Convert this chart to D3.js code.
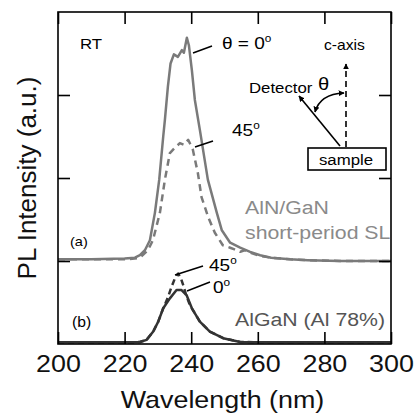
<!DOCTYPE html>
<html><head><meta charset="utf-8">
<script src="https://cdn.jsdelivr.net/npm/d3@7"></script>
<style>html,body{margin:0;padding:0;background:#fff;}svg{display:block;}</style>
</head><body>
<script>
// ---- data ----
const xTicks = [200, 220, 240, 260, 280, 300];
const yTicks = [1, 2, 3];

// (a) AlN/GaN short-period SL, theta = 0 deg (solid)
const wlA0  = [200,210,220,223.1,224.6,226.1,227.6,229.1,230.4,231.6,232.1,233.0,233.8,234.8,236.0,237.2,237.8,238.7,239.3,240.2,241.1,242.6,245.0,247.7,249.2,251.7,254.7,257.7,260.7,264,269.7,275,284.7,300];
const intA0 = [1.02,1.02,1.03,1.04,1.07,1.13,1.25,1.58,1.98,2.50,2.70,3.10,3.38,3.49,3.46,3.54,3.51,3.69,3.60,3.30,2.94,2.58,1.98,1.58,1.37,1.22,1.16,1.11,1.07,1.04,1.02,1.01,1.00,1.00];
// (a) theta = 45 deg (dashed)
const wlA45  = [200,210,220,223,224.6,227.0,228.5,230.6,232.1,233.6,235,236.6,237.8,239.1,240.5,242.0,243.1,245.1,247.1,249.5,251.7,253,254.7,256,257.7,260.7,264,269.7,275,284.7,300];
const intA45 = [1.02,1.02,1.02,1.03,1.04,1.13,1.25,1.58,1.98,2.30,2.36,2.42,2.40,2.46,2.34,2.06,1.77,1.53,1.34,1.19,1.16,1.14,1.11,1.13,1.10,1.06,1.04,1.02,1.01,1.00,1.00];
// (b) AlGaN (Al 78%), 0 deg (solid)
const wlB0  = [200,210,220,224.6,226.6,228.6,230.1,231.6,233.6,235.6,237.1,238.6,240.2,242.6,245.6,249.6,254.7,260,270,280,290,300];
const intB0 = [0.02,0.02,0.02,0.024,0.05,0.15,0.27,0.43,0.55,0.65,0.65,0.59,0.43,0.27,0.15,0.07,0.025,0.02,0.02,0.02,0.02,0.02];
// (b) 45 deg (dashed)
const wlB45  = [200,210,220,224.6,226.6,228.6,230.1,231.6,233.0,234.1,235.2,236.1,237.0,237.6,238.4,239.6,240.2,242.6,245.6,249.6,254.7,260,270,280,290,300];
const intB45 = [0.02,0.02,0.02,0.024,0.05,0.15,0.27,0.43,0.56,0.69,0.80,0.85,0.78,0.71,0.60,0.47,0.43,0.27,0.15,0.07,0.025,0.02,0.02,0.02,0.02,0.02];

// ---- layout ----
const W = 416, H = 418;
const L = 58, R = 391, T = 12, B = 344;
const FONT = "'Liberation Sans', Arial, Helvetica, sans-serif";
const SX = 1.12; // horizontal stretch of text in the reference

const svg = d3.select("body").append("svg").attr("width", W).attr("height", H);
const defs = svg.append("defs");
defs.append("clipPath").attr("id", "plot").append("rect")
  .attr("x", L).attr("y", T).attr("width", R - L).attr("height", B - T);
const mk = defs.append("marker").attr("id", "arr").attr("viewBox", "0 0 10 10")
  .attr("refX", 9).attr("refY", 5).attr("markerWidth", 6).attr("markerHeight", 6)
  .attr("markerUnits", "userSpaceOnUse").attr("orient", "auto-start-reverse");
mk.append("path").attr("d", "M0,0 L10,5 L0,10 z").attr("fill", "#000");

const x = d3.scaleLinear().domain([200, 300]).range([L, R]);
const y = d3.scaleLinear().domain([0, 4]).range([B, T]);

// curves
const line = d3.line().x(d => x(d[0])).y(d => y(d[1]));
const curves = [
  {wl: wlA0,  v: intA0,  color: "#7a7a7a", dash: null},
  {wl: wlA45, v: intA45, color: "#7a7a7a", dash: "7,5"},
  {wl: wlB0,  v: intB0,  color: "#333333", dash: null},
  {wl: wlB45, v: intB45, color: "#333333", dash: "6,4"}
];
const cg = svg.append("g").attr("clip-path", "url(#plot)");
curves.forEach(c => {
  cg.append("path").datum(c.wl.map((w, i) => [w, c.v[i]]))
    .attr("d", line).attr("fill", "none").attr("stroke", c.color)
    .attr("stroke-width", 2.5).attr("stroke-linejoin", "round")
    .attr("stroke-dasharray", c.dash);
});

// axes (ticks inside)
const tk = 12;
const gB = svg.append("g").attr("transform", `translate(0,${B})`)
  .call(d3.axisBottom(x).tickValues(xTicks).tickSize(-tk).tickPadding(11).tickFormat(d3.format("d")));
const gT = svg.append("g").attr("transform", `translate(0,${T})`)
  .call(d3.axisTop(x).tickValues(xTicks).tickSize(-tk).tickFormat(""));
const gL = svg.append("g").attr("transform", `translate(${L},0)`)
  .call(d3.axisLeft(y).tickValues(yTicks).tickSize(-tk).tickFormat(""));
const gR = svg.append("g").attr("transform", `translate(${R},0)`)
  .call(d3.axisRight(y).tickValues(yTicks).tickSize(-tk).tickFormat(""));
[gB, gT, gL, gR].forEach(g => {
  g.select(".domain").remove();
  g.selectAll(".tick line").attr("stroke", "#000").attr("stroke-width", 1.6);
});
gB.selectAll(".tick text").attr("font-family", FONT).attr("font-size", 24).attr("fill", "#111")
  .attr("transform", `scale(${SX},1)`);

svg.append("rect").attr("x", L).attr("y", T).attr("width", R - L).attr("height", B - T)
  .attr("fill", "none").attr("stroke", "#000").attr("stroke-width", 1.6);

// text helper
function txt(px, py, s, size, opts = {}) {
  const t = svg.append("text")
    .attr("transform", `translate(${px},${py}) scale(${SX},1)`)
    .attr("font-family", FONT).attr("font-size", size)
    .attr("fill", opts.fill || "#000")
    .attr("text-anchor", opts.anchor || "start")
    .attr("dominant-baseline", "central");
  t.append("tspan").text(s);
  if (opts.deg) {
    t.append("tspan").attr("font-size", size * 0.62).attr("dy", -size * 0.3).text("o");
  }
  return t;
}

// axis titles
txt((L + R) / 2 - 2, 400, "Wavelength (nm)", 24, {anchor: "middle", fill: "#111"});
svg.append("text").attr("transform", `translate(27,178) rotate(-90)`)
  .attr("text-anchor", "middle").attr("dominant-baseline", "central")
  .attr("font-family", FONT).attr("font-size", 26).attr("fill", "#111").text("PL Intensity (a.u.)");

// annotations
txt(80, 43, "RT", 15);
txt(222, 43, "\u03B8 = 0", 17, {deg: true});
txt(232, 130, "45", 17, {deg: true});
txt(245, 207, "AlN/GaN", 19, {fill: "#8a8a8a"});
txt(245, 232, "short-period SL", 19, {fill: "#8a8a8a"});
txt(70, 241, "(a)", 13);
txt(209, 265, "45", 17, {deg: true});
txt(213, 287, "0", 17, {deg: true});
txt(72, 322, "(b)", 14);
txt(235, 319, "AlGaN (Al 78%)", 19, {fill: "#555"});

// leader lines
const leaders = [[193, 53, 212, 46], [195, 147, 213, 141], [175, 275, 203, 266], [187, 291, 210, 282]];
leaders.forEach(l => svg.append("line").attr("x1", l[0]).attr("y1", l[1]).attr("x2", l[2]).attr("y2", l[3])
  .attr("stroke", "#000").attr("stroke-width", 1.5));

// inset geometry diagram
txt(324, 45, "c-axis", 14);
txt(249, 87, "Detector", 15);
txt(318, 83, "\u03B8", 18);
svg.append("line").attr("x1", 346).attr("y1", 147).attr("x2", 346).attr("y2", 64)
  .attr("stroke", "#000").attr("stroke-width", 1.6).attr("stroke-dasharray", "6,4")
  .attr("marker-end", "url(#arr)");
svg.append("line").attr("x1", 340).attr("y1", 146).attr("x2", 299).attr("y2", 96)
  .attr("stroke", "#000").attr("stroke-width", 1.6).attr("marker-end", "url(#arr)");
svg.append("path").attr("d", "M315,112 Q320,94 344,93")
  .attr("fill", "none").attr("stroke", "#000").attr("stroke-width", 1.6)
  .attr("marker-start", "url(#arr)").attr("marker-end", "url(#arr)");
svg.append("rect").attr("x", 308).attr("y", 148).attr("width", 78).attr("height", 22)
  .attr("fill", "#fff").attr("stroke", "#000").attr("stroke-width", 1.6);
txt(346, 159, "sample", 15, {anchor: "middle"});
</script>
</body></html>
